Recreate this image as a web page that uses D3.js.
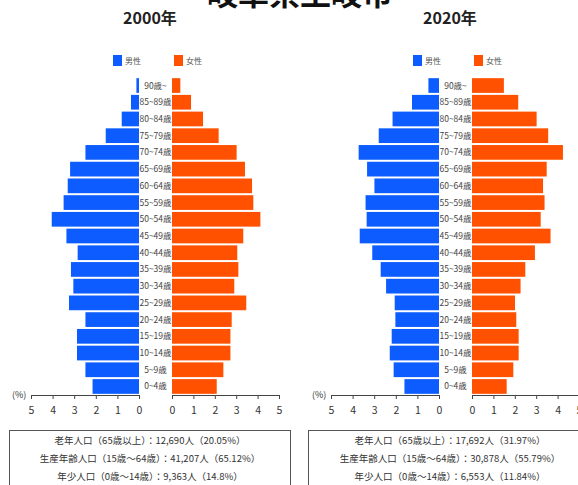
<!DOCTYPE html>
<html><head><meta charset="utf-8">
<script src="https://cdn.jsdelivr.net/npm/d3@7"></script>
<style>
html,body{margin:0;padding:0;background:#fff;}
svg{display:block;font-family:"Noto Sans CJK JP","Noto Sans",sans-serif;}
</style></head>
<body>
<script>
const ageGroups = ["0~4歳","5~9歳","10~14歳","15~19歳","20~24歳","25~29歳","30~34歳","35~39歳","40~44歳","45~49歳","50~54歳","55~59歳","60~64歳","65~69歳","70~74歳","75~79歳","80~84歳","85~89歳","90歳~"];
const male2000   = [2.15,2.48,2.87,2.87,2.48,3.24,3.04,3.15,2.84,3.36,4.04,3.49,3.30,3.19,2.48,1.54,0.80,0.37,0.12];
const female2000 = [2.09,2.40,2.73,2.73,2.79,3.47,2.91,3.10,3.05,3.33,4.13,3.80,3.74,3.41,3.02,2.18,1.45,0.89,0.39];
const male2020   = [1.60,2.10,2.28,2.19,2.02,2.05,2.45,2.70,3.09,3.67,3.35,3.40,2.99,3.33,3.72,2.79,2.15,1.25,0.49];
const female2020 = [1.62,1.93,2.18,2.18,2.07,2.01,2.27,2.49,2.94,3.67,3.21,3.39,3.32,3.49,4.25,3.56,3.02,2.16,1.49];
const axisTicks = [0,1,2,3,4,5];
const years = ["2000年","2020年"];
const legendLabels = ["男性","女性"];
const summary2000 = ["老年人口（65歳以上）：12,690人（20.05%）","生産年齢人口（15歳～64歳）：41,207人（65.12%）","年少人口（0歳～14歳）：9,363人（14.8%）"];
const summary2020 = ["老年人口（65歳以上）：17,692人（31.97%）","生産年齢人口（15歳～64歳）：30,878人（55.79%）","年少人口（0歳～14歳）：6,553人（11.84%）"];
const title = "岐阜県土岐市";

const BLUE = "#0d5cff", ORANGE = "#ff5100", TXT = "#333";
const W = 578, H = 485;
const svg = d3.select("body").append("svg").attr("width", W).attr("height", H);

svg.append("text").attr("x", 300).attr("y", 5).attr("text-anchor","middle")
  .attr("font-size", 31).attr("font-weight","bold").attr("fill","#111").text(title);

const y = d3.scaleBand().domain(ageGroups.slice().reverse()).range([77.5, 394.5]).paddingInner(0.12).paddingOuter(0.04);

const panels = [
  {off:0, year:years[0], male:male2000, female:female2000, summary:summary2000, box:[9,290]},
  {off:300, year:years[1], male:male2020, female:female2020, summary:summary2020, box:[308,600]}
];

panels.forEach(p => {
  const g = svg.append("g").attr("transform", `translate(${p.off},0)`);
  const xM = d3.scaleLinear().domain([0,5]).range([139, 31]);
  const xF = d3.scaleLinear().domain([0,5]).range([172, 279]);

  g.append("text").attr("x", 150).attr("y", 24).attr("text-anchor","middle")
    .attr("font-size", 16).attr("font-weight","bold").attr("fill","#222").text(p.year);

  // legend
  const leg = [{c:BLUE, x:113, t:legendLabels[0]},{c:ORANGE, x:174, t:legendLabels[1]}];
  leg.forEach(l => {
    g.append("rect").attr("x", l.x).attr("y", 55).attr("width", 9).attr("height", 11).attr("fill", l.c);
    g.append("text").attr("x", l.x+12).attr("y", 63.5).attr("font-size", 8).attr("fill", "#555").text(l.t);
  });

  g.selectAll(".m").data(ageGroups).join("rect")
    .attr("x", (d,i) => xM(p.male[i])).attr("y", d => y(d))
    .attr("width", (d,i) => xM(0) - xM(p.male[i])).attr("height", y.bandwidth()).attr("fill", BLUE);
  g.selectAll(".f").data(ageGroups).join("rect")
    .attr("x", xF(0)).attr("y", d => y(d))
    .attr("width", (d,i) => xF(p.female[i]) - xF(0)).attr("height", y.bandwidth()).attr("fill", ORANGE);

  g.selectAll(".lab").data(ageGroups).join("text")
    .attr("x", 155.5).attr("y", d => y(d) + y.bandwidth()/2).attr("dy","0.35em")
    .attr("text-anchor","middle").attr("font-size", 8.5).attr("fill", "#444").text(d => d);

  const axM = d3.axisBottom(xM).tickValues(axisTicks).tickSize(4).tickPadding(8).tickSizeOuter(0).tickFormat(d3.format("d"));
  const axF = d3.axisBottom(xF).tickValues(axisTicks).tickSize(4).tickPadding(8).tickSizeOuter(0).tickFormat(d3.format("d"));
  [axM, axF].forEach(ax => {
    const a = g.append("g").attr("transform","translate(0,395)").call(ax);
    a.selectAll("path,line").attr("stroke","#444");
    a.selectAll("text").attr("font-size", 10.5).attr("fill", TXT).attr("font-family","'Noto Sans CJK JP',sans-serif");
  });
  g.append("text").attr("x", 12).attr("y", 398).attr("font-size", 9).attr("fill", TXT).text("(%)");

  // summary box
  svg.append("rect").attr("x", p.box[0]+0.5).attr("y", 430.5).attr("width", p.box[1]-p.box[0]).attr("height", 70)
    .attr("fill","none").attr("stroke","#555").attr("stroke-width",1);
  p.summary.forEach((s,i) => {
    g.append("text").attr("x", 150).attr("y", 441 + i*18).attr("dy","0.35em").attr("text-anchor","middle")
      .attr("font-size", 9.5).attr("fill", TXT).text(s);
  });
});
</script>
</body></html>
